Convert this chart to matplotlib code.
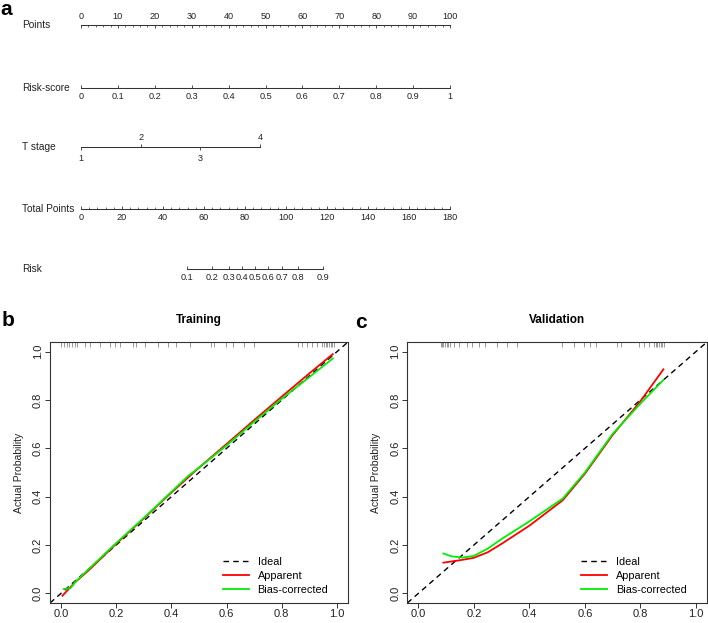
import matplotlib
matplotlib.use("Agg")
import matplotlib.pyplot as plt

plt.rcParams['font.family'] = ['Liberation Sans', 'DejaVu Sans']

# ---------------- data ----------------
points_ticks = [0, 10, 20, 30, 40, 50, 60, 70, 80, 90, 100]
riskscore_ticks = [0, 0.1, 0.2, 0.3, 0.4, 0.5, 0.6, 0.7, 0.8, 0.9, 1]
riskscore_labels = ['0', '0.1', '0.2', '0.3', '0.4', '0.5', '0.6', '0.7', '0.8', '0.9', '1']
tstage_labels = ['1', '2', '3', '4']
tstage_points = [0, 16.3, 32.3, 48.6]
total_ticks = [0, 20, 40, 60, 80, 100, 120, 140, 160, 180]
risk_labels = ['0.1', '0.2', '0.3', '0.4', '0.5', '0.6', '0.7', '0.8', '0.9']
risk_total_points = [51.6, 64.0, 72.0, 78.7, 85.0, 91.4, 97.9, 106.0, 118.2]

row_names = ['Points', 'Risk-score', 'T stage', 'Total Points', 'Risk']

calib_ticks = [0.0, 0.2, 0.4, 0.6, 0.8, 1.0]
calib_labels = ['0.0', '0.2', '0.4', '0.6', '0.8', '1.0']

train_app_x = [0.005, 0.05, 0.1, 0.2, 0.3, 0.4, 0.5, 0.6, 0.7, 0.8, 0.9, 0.985]
train_app_y = [-0.01, 0.045, 0.095, 0.205, 0.31, 0.417, 0.52, 0.618, 0.717, 0.814, 0.91, 0.99]
train_bc_x = [0.01, 0.035, 0.05, 0.1, 0.2, 0.3, 0.4, 0.46, 0.5, 0.6, 0.7, 0.8, 0.9, 0.985]
train_bc_y = [0.018, 0.022, 0.045, 0.1, 0.208, 0.312, 0.42, 0.485, 0.52, 0.612, 0.71, 0.805, 0.895, 0.972]
train_rug = [0.0, 0.01, 0.02, 0.03, 0.04, 0.05, 0.057, 0.087, 0.105, 0.141, 0.177, 0.195,
             0.213, 0.261, 0.273, 0.303, 0.351, 0.387, 0.418, 0.466, 0.544, 0.556, 0.598,
             0.622, 0.664, 0.700, 0.857, 0.875, 0.893, 0.911, 0.929, 0.947, 0.953, 0.959,
             0.965, 0.971, 0.977, 0.983, 0.989]

val_app_x = [0.09, 0.15, 0.2, 0.25, 0.3, 0.4, 0.52, 0.6, 0.7, 0.8, 0.883]
val_app_y = [0.127, 0.137, 0.147, 0.17, 0.205, 0.28, 0.385, 0.495, 0.655, 0.795, 0.927]
val_bc_x = [0.09, 0.12, 0.16, 0.2, 0.25, 0.3, 0.4, 0.52, 0.6, 0.7, 0.8, 0.883]
val_bc_y = [0.165, 0.153, 0.148, 0.155, 0.185, 0.225, 0.298, 0.392, 0.5, 0.66, 0.785, 0.883]
val_rug = [0.081, 0.086, 0.09, 0.096, 0.102, 0.108, 0.114, 0.127, 0.145, 0.175, 0.193,
           0.217, 0.241, 0.283, 0.319, 0.355, 0.518, 0.56, 0.596, 0.62, 0.639, 0.717,
           0.729, 0.795, 0.813, 0.831, 0.849, 0.855, 0.861, 0.867, 0.873, 0.879, 0.886]

# ---------------- figure ----------------
W, H = 708, 623
fig = plt.figure(figsize=(W / 100, H / 100), dpi=100)
LC = '#333333'
TICK_FS = 6.6
LABEL_FS = 7.3


def row_axes(y_px, xlim, side='bottom', pad=3.2):
    ax = fig.add_axes([81 / W, 1 - y_px / H, 369 / W, 1e-6])
    ax.set_xlim(*xlim)
    ax.set_ylim(0, 1)
    ax.patch.set_visible(False)
    for s in ['left', 'right', 'top', 'bottom']:
        ax.spines[s].set_visible(s == side)
        ax.spines[s].set_linewidth(0.75)
        ax.spines[s].set_color(LC)
    ax.set_yticks([])
    if side == 'top':
        ax.xaxis.tick_top()
    ax.tick_params(axis='x', which='major', direction='in', length=2.2, width=0.6,
                   color=LC, labelsize=TICK_FS, pad=pad, labelcolor='#222222')
    ax.tick_params(axis='x', which='minor', direction='in', length=1.3, width=0.5, color=LC)
    return ax


row_y = [25, 88, 147, 209, 269]
for name, y in zip(row_names, row_y):
    fig.text(22 / W, 1 - y / H, name, ha='left', va='center', fontsize=LABEL_FS,
             color='#222222')

# Points
ax = row_axes(row_y[0], (0, 100), side='top', pad=2.8)
ax.set_xticks(points_ticks)
ax.set_xticklabels([str(v) for v in points_ticks])
ax.set_xticks(range(0, 101, 2), minor=True)

# Risk-score
ax = row_axes(row_y[1], (0, 1))
ax.set_xticks(riskscore_ticks)
ax.set_xticklabels(riskscore_labels)

# T stage
ax = row_axes(row_y[2], (0, 100), pad=2.6)
ax.spines['bottom'].set_bounds(tstage_points[0], tstage_points[-1])
ax.set_xticks([tstage_points[0], tstage_points[2]])
ax.set_xticklabels([tstage_labels[0], tstage_labels[2]])
ax.tick_params(axis='x', direction='out')
ax2 = ax.twiny()
ax2.set_xlim(0, 100)
for s in ax2.spines.values():
    s.set_visible(False)
ax2.set_xticks([tstage_points[1], tstage_points[3]])
ax2.set_xticklabels([tstage_labels[1], tstage_labels[3]])
ax2.tick_params(axis='x', direction='out', length=2.2, width=0.6, color=LC,
                labelsize=TICK_FS, pad=1.3, labelcolor='#222222')
ax2.set_yticks([])

# Total Points
ax = row_axes(row_y[3], (0, 180))
ax.set_xticks(total_ticks)
ax.set_xticklabels([str(v) for v in total_ticks])
ax.set_xticks(range(0, 181, 4), minor=True)

# Risk
ax = row_axes(row_y[4], (0, 180))
ax.spines['bottom'].set_bounds(risk_total_points[0], risk_total_points[-1])
ax.set_xticks(risk_total_points)
ax.set_xticklabels(risk_labels)


# ---------------- calibration plots ----------------
def calib(rect, title, app_x, app_y, bc_x, bc_y, rug, ylab_x):
    ax = fig.add_axes(rect)
    ax.set_xlim(-0.04, 1.04)
    ax.set_ylim(-0.04, 1.04)
    for s in ax.spines.values():
        s.set_linewidth(0.8)
        s.set_color(LC)
    ax.set_xticks(calib_ticks)
    ax.set_xticklabels(calib_labels)
    ax.set_yticks(calib_ticks)
    ax.set_yticklabels(calib_labels, rotation=90, va='center')
    ax.tick_params(axis='both', direction='out', length=3.6, width=0.7, color=LC,
                   labelsize=8, labelcolor='#222222')
    ax.tick_params(axis='x', pad=1)
    ax.tick_params(axis='y', pad=1.5)
    ax.vlines(rug, 0.98, 1.0, transform=ax.get_xaxis_transform(), color='#999999', lw=0.7)
    ax.axline((0, 0), slope=1, color='black', lw=1.0, dashes=(4, 3), label='Ideal')
    ax.plot(app_x, app_y, color='#ff0000', lw=1.3, label='Apparent')
    ax.plot(bc_x, bc_y, color='#00ee00', lw=1.3, label='Bias-corrected')
    ax.set_ylabel('Actual Probability', fontsize=7.5, color='#222222')
    ax.yaxis.set_label_coords(ylab_x, 0.5)
    ax.set_title(title, fontweight='bold', fontsize=8.5, pad=14)
    ax.legend(loc='lower left', bbox_to_anchor=(0.58, 0.03), frameon=False,
              fontsize=7.8, handlelength=2.4, handletextpad=0.8, labelspacing=0.38,
              borderpad=0, borderaxespad=0)
    return ax


calib([50 / W, 1 - 603 / H, 298 / W, 261 / H], 'Training',
      train_app_x, train_app_y, train_bc_x, train_bc_y, train_rug, -0.087)
calib([407.3 / W, 1 - 603 / H, 299.7 / W, 261 / H], 'Validation',
      val_app_x, val_app_y, val_bc_x, val_bc_y, val_rug, -0.087)

fig.text(0 / W, 1.0, 'a', ha='left', va='top', fontsize=15, fontweight='bold')
fig.text(2 / W, 1 - 326 / H, 'b', ha='left', va='baseline', fontsize=15, fontweight='bold')
fig.text(355 / W, 1 - 328 / H, 'c', ha='left', va='baseline', fontsize=15, fontweight='bold')

fig.savefig('out.png', dpi=100)
